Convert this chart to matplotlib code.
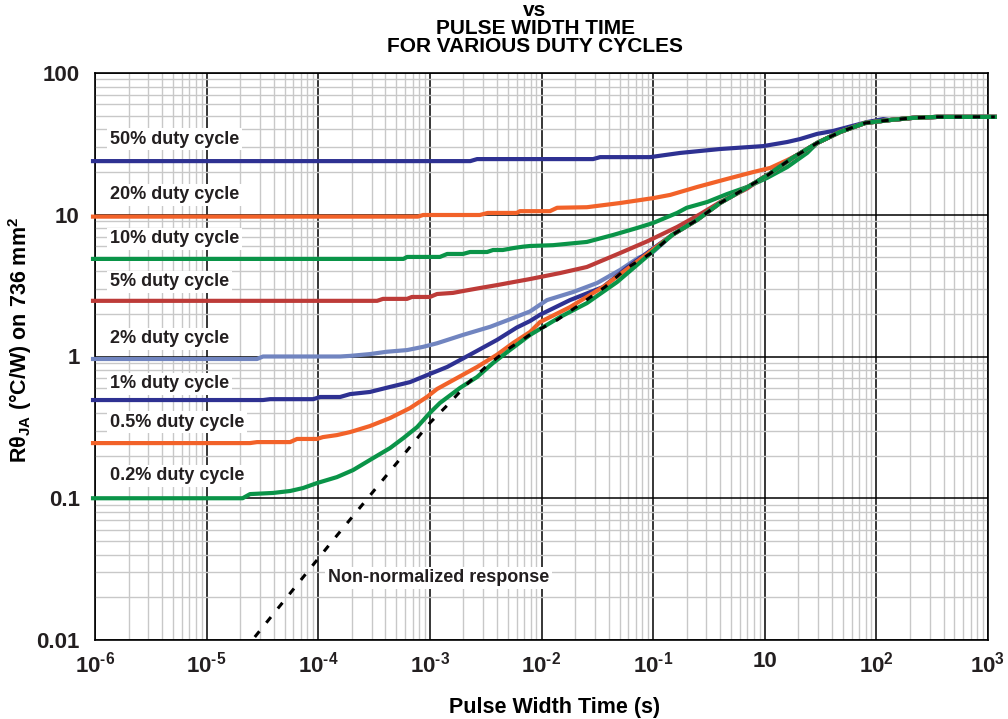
import matplotlib
matplotlib.use("Agg")
import matplotlib.pyplot as plt
from matplotlib.ticker import FixedLocator, LogLocator, NullFormatter

plt.rcParams['font.family'] = ['Liberation Sans', 'DejaVu Sans']
plt.rcParams['mathtext.fontset'] = 'custom'
plt.rcParams['mathtext.rm'] = 'Liberation Sans:bold'
plt.rcParams['mathtext.bf'] = 'Liberation Sans:bold'
plt.rcParams['mathtext.it'] = 'Liberation Sans:bold'

# --- data ---
# common tail where all curves merge and saturate
tail_x = [0.148, 0.248, 0.398, 0.64, 1.07, 1.76, 2.95, 4.74, 7.94, 13.3, 20.9, 35, 115]
tail_y = [7.2, 9.2, 12.1, 15.0, 19.1, 25.1, 32.1, 38.4, 44.4, 46.6, 48.2, 49, 49]

# non-normalized response (dashed)
nn_x = [2.7e-5, 1.36e-4, 1e-3, 1.5e-3, 2.2e-3, 3.3e-3, 5.2e-3, 8.4e-3, 1.38e-2, 2.3e-2, 3.7e-2, 5.8e-2, 0.1]
nn_y = [0.0105, 0.0507, 0.34, 0.47, 0.65, 0.87, 1.15, 1.47, 1.81, 2.38, 3.09, 4.2, 5.46]

d50_x = [0.96e-6, 2.3e-3, 2.65e-3, 0.029, 0.0335, 0.094, 0.175, 0.40, 0.97, 1.59, 2.07, 2.95, 4.1, 8.3, 11.5]
d50_y = [23.9, 23.9, 24.7, 24.7, 25.5, 25.5, 27.3, 29.1, 30.5, 32.6, 34.2, 37.2, 39.0, 45.1, 47.3]

d20_x = [0.96e-6, 7.8e-4, 8.7e-4, 2.8e-3, 3.3e-3, 6.0e-3, 6.4e-3, 0.0119, 0.0138, 0.0255, 0.0506,
         0.1, 0.142, 0.248, 0.46, 0.787, 1.12, 1.59, 2.4]
d20_y = [9.7, 9.7, 9.96, 9.96, 10.3, 10.3, 10.6, 10.6, 11.2, 11.3, 12.1,
         13.1, 13.8, 15.7, 17.9, 20.0, 21.4, 24.3, 28.6]

d10_x = [0.96e-6, 5.8e-4, 6.25e-4, 1.23e-3, 1.43e-3, 1.98e-3, 2.29e-3, 3.26e-3, 3.68e-3, 4.5e-3, 5.6e-3,
         6.8e-3, 7.9e-3, 0.0127, 0.0255, 0.0438, 0.072, 0.1, 0.164, 0.20, 0.305, 0.46, 0.695, 1.05, 1.59, 2.4]
d10_y = [4.88, 4.88, 5.04, 5.04, 5.29, 5.29, 5.46, 5.46, 5.64, 5.64, 5.82,
         5.95, 6.02, 6.1, 6.43, 7.2, 8.07, 8.75, 10.3, 11.2, 12.3, 14.0, 15.7, 18.2, 21.7, 27.3]

d5_x = [0.96e-6, 3.37e-4, 3.8e-4, 6.25e-4, 6.9e-4, 1e-3, 1.16e-3, 1.61e-3, 2.0e-3, 2.8e-3, 4.0e-3,
        5.6e-3, 7.9e-3, 0.0147, 0.0255, 0.0506, 0.09, 0.164, 0.264, 0.40, 0.695, 0.97]
d5_y = [2.47, 2.47, 2.55, 2.55, 2.63, 2.63, 2.76, 2.81, 2.9, 3.04, 3.19,
        3.35, 3.52, 3.88, 4.28, 5.37, 6.53, 8.2, 10.1, 12.3, 15.3, 18.4]

d2_x = [0.96e-6, 2.83e-5, 3.2e-5, 1.57e-4, 1.93e-4, 2.9e-4, 4.1e-4, 6.25e-4, 8.7e-4, 1.16e-3,
        1.98e-3, 3.47e-3, 5.6e-3, 7.9e-3, 0.0112, 0.0192, 0.0315, 0.0506, 0.0736, 0.1]
d2_y = [0.96, 0.96, 1.0, 1.0, 1.01, 1.04, 1.08, 1.11, 1.17, 1.24,
        1.42, 1.62, 1.87, 2.08, 2.5, 2.85, 3.3, 4.08, 4.96, 5.46]

d1_x = [0.96e-6, 3.2e-5, 3.7e-5, 9.0e-5, 1.04e-4, 1.57e-4, 1.93e-4, 2.9e-4, 4.4e-4, 6.65e-4, 1e-3,
        1.43e-3, 2.29e-3, 4.0e-3, 6.0e-3, 7.9e-3, 9.7e-3, 0.018, 0.0356, 0.058, 0.088]
d1_y = [0.493, 0.493, 0.50, 0.50, 0.518, 0.518, 0.543, 0.562, 0.61, 0.66, 0.753,
        0.844, 1.03, 1.31, 1.6, 1.78, 1.97, 2.5, 3.09, 4.21, 5.37]

d05_x = [0.96e-6, 2.45e-5, 2.83e-5, 5.6e-5, 6.45e-5, 9.75e-5, 1.1e-4, 1.47e-4, 1.93e-4, 2.9e-4, 4.4e-4,
         6.65e-4, 9.4e-4, 1.16e-3, 1.75e-3, 2.65e-3, 4.0e-3, 5.6e-3, 7.9e-3, 9.7e-3, 0.018, 0.0356, 0.062]
d05_y = [0.245, 0.245, 0.249, 0.249, 0.262, 0.262, 0.27, 0.279, 0.293, 0.323, 0.368,
         0.433, 0.518, 0.59, 0.705, 0.844, 1.03, 1.25, 1.49, 1.75, 2.23, 3.09, 4.28]

d02_x = [0.96e-6, 2.1e-5, 2.45e-5, 3.94e-5, 5.6e-5, 7.3e-5, 9.75e-5, 1.47e-4, 2.05e-4, 3.1e-4, 4.4e-4,
         5.8e-4, 7.7e-4, 1e-3, 1.23e-3, 1.86e-3, 2.65e-3, 3.68e-3, 5.2e-3, 7.9e-3, 0.0147, 0.0255, 0.0475]
d02_y = [0.1, 0.1, 0.107, 0.109, 0.1125, 0.118, 0.128, 0.141, 0.158, 0.192, 0.226,
         0.266, 0.318, 0.40, 0.47, 0.6, 0.717, 0.9, 1.11, 1.42, 1.9, 2.38, 3.35]

labels = ["50% duty cycle", "20% duty cycle", "10% duty cycle", "5% duty cycle",
          "2% duty cycle", "1% duty cycle", "0.5% duty cycle", "0.2% duty cycle"]
label_y = [34.2, 13.8, 6.75, 3.36, 1.33, 0.64, 0.345, 0.144]

xtick_pos = [1e-6, 1e-5, 1e-4, 1e-3, 1e-2, 1e-1, 1, 10, 100]
xtick_lab = [r'$10^{\text{-6}}$', r'$10^{\text{-5}}$', r'$10^{\text{-4}}$', r'$10^{\text{-3}}$',
             r'$10^{\text{-2}}$', r'$10^{\text{-1}}$', '10', r'$10^{2}$', r'$10^{3}$']
ytick_pos = [0.01, 0.1, 1, 10, 100]
ytick_lab = ['0.01', '0.1', '1', '10', '100']

DBLUE = '#2e3192'
ORANGE = '#f26229'
GREEN = '#0a9448'
RED = '#bd3b38'
LBLUE = '#7185c0'
curves = [(d50_x, d50_y, DBLUE), (d20_x, d20_y, ORANGE), (d10_x, d10_y, GREEN),
          (d5_x, d5_y, RED), (d2_x, d2_y, LBLUE), (d1_x, d1_y, DBLUE),
          (d05_x, d05_y, ORANGE), (d02_x, d02_y, GREEN)]


def with_tail(xs, ys):
    # append the shared saturation tail after the curve's last point
    xo, yo = list(xs), list(ys)
    for tx, ty in zip(tail_x, tail_y):
        if tx > xs[-1]:
            xo.append(tx)
            yo.append(ty)
    return xo, yo


fig = plt.figure(figsize=(10.08, 7.19), dpi=100)
ax = fig.add_axes([95 / 1008, 1 - 640 / 719, 893 / 1008, 567 / 719])
ax.set_xscale('log')
ax.set_yscale('log')
ax.set_xlim(1e-6, 100)
ax.set_ylim(0.01, 100)

ax.xaxis.set_major_locator(FixedLocator(xtick_pos))
ax.set_xticklabels(xtick_lab)
ax.yaxis.set_major_locator(FixedLocator(ytick_pos))
ax.set_yticklabels(ytick_lab)
ax.xaxis.set_minor_locator(LogLocator(base=10, subs=range(2, 10), numticks=20))
ax.yaxis.set_minor_locator(LogLocator(base=10, subs=range(2, 10), numticks=20))
ax.xaxis.set_minor_formatter(NullFormatter())
ax.yaxis.set_minor_formatter(NullFormatter())
ax.tick_params(which='both', length=0)
ax.tick_params(axis='x', pad=8, labelsize=16)
ax.tick_params(axis='y', pad=11, labelsize=16)
for lab in ax.get_xticklabels() + ax.get_yticklabels():
    lab.set_fontweight('bold')
    lab.set_color('#231f20')

ax.grid(which='minor', color='#c8c8c8', lw=1.0)
ax.grid(which='major', color='black', lw=1.1)
ax.set_axisbelow(True)
for s in ax.spines.values():
    s.set_linewidth(1.2)

for xs, ys, c in curves:
    cx, cy = with_tail(xs, ys)
    ax.plot(cx, cy, color=c, lw=3, clip_on=False, zorder=3)

ax.plot(nn_x + tail_x, nn_y + tail_y, color='black', lw=2.2,
        linestyle=(0, (2.4, 3.6)), clip_on=False, zorder=4)

box = dict(facecolor='white', edgecolor='none', pad=2)
for txt, ly in zip(labels, label_y):
    ax.text(1.36e-6, ly, txt, fontsize=13, fontweight='bold', color='#231f20',
            va='center', ha='left', bbox=box, zorder=5)
ax.text(1.22e-4, 0.0274, "Non-normalized response", fontsize=13, fontweight='bold',
        color='#231f20', va='center', ha='left', bbox=box, zorder=5)

ax.set_xlabel('Pulse Width Time (s)', fontsize=15.5, fontweight='bold')
ax.xaxis.set_label_coords(0.515, -0.1)
ax.set_ylabel('Rθ$_{JA}$ (°C/W) on 736 mm$^{2}$', fontsize=15.5, fontweight='bold')
ax.yaxis.set_label_coords(-0.068, 0.53)

title_x = 535 / 1008
fig.text(title_x, 1 - 10 / 719, 'vs', ha='center', va='center', fontsize=15, fontweight='bold')
fig.text(title_x, 1 - 29 / 719, 'PULSE WIDTH TIME', ha='center', va='center', fontsize=15, fontweight='bold')
fig.text(title_x, 1 - 47 / 719, 'FOR VARIOUS DUTY CYCLES', ha='center', va='center', fontsize=15, fontweight='bold')

fig.savefig('out.png', dpi=100)
